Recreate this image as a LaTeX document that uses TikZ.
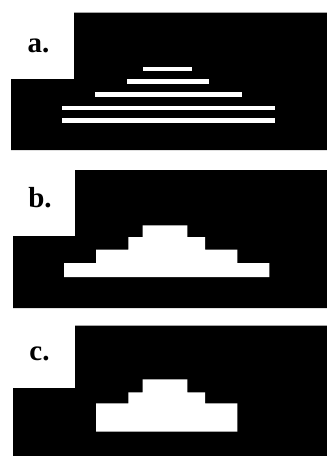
\documentclass[tikz,border=0pt]{standalone}
\usepackage{fontspec}
\setmainfont{Liberation Serif}
\usetikzlibrary{
    positioning
}

\begin{document}
\begin{tikzpicture}[
    x=1pt,
    y=-1pt,
    every node/.style={
        font=\fontsize{29pt}{31pt}\selectfont
    },
    panel/.style={
        fill=black,
        draw=none
    },
    signal/.style={
        fill=white,
        draw=none
    },
    panellabel/.style={
        anchor=base,
        inner sep=0pt,
        font=\fontsize{29pt}{31pt}\selectfont\bfseries
    }
]

\useasboundingbox (0,0) rectangle (327,456);

% ==========================================================
% Panel a
% ==========================================================
\fill[panel]
    (11,79) -- (74,79) -- (74,12.7) -- (327,12.7)
    -- (327,150) -- (11,150) -- cycle;

\node[panellabel] (labela) at (38.5,52) {a.};

\fill[signal] (142.7,66.7) rectangle (191.7,71);
\fill[signal] (127.3,79.3) rectangle (209.3,83.7);
\fill[signal] (94.7,92.3) rectangle (242.3,96.7);
\fill[signal] (61.7,106) rectangle (275.3,110.3);
\fill[signal] (61.7,118.3) rectangle (275.3,122.7);

% ==========================================================
% Panel b
% ==========================================================
\fill[panel]
    (13,236) -- (75,236) -- (75,170) -- (327,170)
    -- (327,308) -- (13,308) -- cycle;

\node[panellabel] (labelb) at (40,207) {b.};

\fill[signal]
    (64,277) -- (64,263) -- (96,263) -- (96,249.7)
    -- (128.3,249.7) -- (128.3,237) -- (142.7,237) -- (142.7,225.3)
    -- (187.3,225.3) -- (187.3,237) -- (205,237) -- (205,249.7)
    -- (237.3,249.7) -- (237.3,263) -- (269.3,263) -- (269.3,277)
    -- cycle;

% ==========================================================
% Panel c
% ==========================================================
\fill[panel]
    (13,388) -- (75,388) -- (75,325.7) -- (327,325.7)
    -- (327,456) -- (13,456) -- cycle;

\node[panellabel] (labelc) at (39.5,360) {c.};

\fill[signal]
    (96,431.7) -- (96,403.3) -- (128.3,403.3) -- (128.3,392.3)
    -- (142.7,392.3) -- (142.7,379.3) -- (187.3,379.3) -- (187.3,392.3)
    -- (205,392.3) -- (205,403.3) -- (237.3,403.3) -- (237.3,431.7)
    -- cycle;

\end{tikzpicture}
\end{document}
